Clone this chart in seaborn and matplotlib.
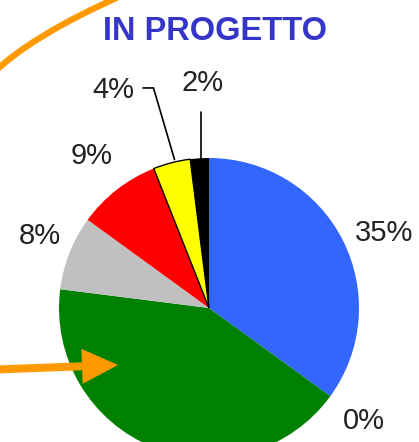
import numpy as np
import seaborn as sns
import matplotlib.pyplot as plt
from matplotlib.path import Path
from matplotlib.patches import PathPatch, FancyArrow

sns.set_style("white")
plt.rcParams['font.family'] = ['Liberation Sans', 'DejaVu Sans']

# slice data, clockwise from 12 o'clock (green label falls outside the crop)
shares = [35, 0, 42, 8, 9, 4, 2]
pct_labels = ['35%', '0%', '', '8%', '9%', '4%', '2%']
slice_colors = ['#3366FF', '#FF00FF', '#008000', '#C0C0C0', '#FF0000', '#FFFF00', '#000000']
title = 'IN PROGETTO'

W, H = 419, 442
fig = plt.figure(figsize=(W / 100, H / 100), dpi=100)
fig.patch.set_facecolor('white')

# pie axes: centre (209, 308) px, radius 150 px
cx, cy, R = 209, 308, 150
ax = fig.add_axes([(cx - R) / W, (H - cy - R) / H, 2 * R / W, 2 * R / H])
pal = sns.color_palette(slice_colors)
wedges, texts = ax.pie(shares, colors=pal, startangle=90, counterclock=False,
                       labels=pct_labels, labeldistance=1.28,
                       wedgeprops=dict(linewidth=0),
                       textprops=dict(fontsize=21, color='#222222'))
wedges[5].set_edgecolor('black')
wedges[5].set_linewidth(1.0)
for t in texts:
    t.set_ha('center')
    t.set_va('center')

texts[0].set_position((1.17, 0.50))
texts[3].set_position((-1.13, 0.48))
# small slices get pushed out with leader lines
texts[5].set_position((-0.64, 1.45))
texts[6].set_position((-0.04, 1.50))
ax.plot([-0.23, -0.37, -0.44], [0.99, 1.467, 1.467], color='black', lw=1.2, clip_on=False)
ax.plot([-0.053, -0.053], [0.99, 1.31], color='black', lw=1.2, clip_on=False)
ax.set_xlim(-1, 1)
ax.set_ylim(-1, 1)
ax.set_aspect('auto')
ax.axis('off')

fig.text(215 / W, 1 - 31 / H, title, ha='center', va='center',
         fontsize=23.5, fontweight='bold', color='#3535C8')

# orange annotation overlay in pixel coordinates
ov = fig.add_axes([0, 0, 1, 1], facecolor='none')
ov.set_xlim(0, W)
ov.set_ylim(H, 0)
ov.axis('off')
arc = Path([(-10, 76), (30, 36), (123, -5)], [Path.MOVETO, Path.CURVE3, Path.CURVE3])
ov.add_patch(PathPatch(arc, fill=False, edgecolor='#FF9900', lw=4.5, capstyle='butt'))
ov.add_patch(FancyArrow(-5, 369.5, 123, -4.5, width=8, head_width=35, head_length=36,
                        length_includes_head=True, color='#FF9900', lw=0))

fig.savefig('out.png', dpi=100)
